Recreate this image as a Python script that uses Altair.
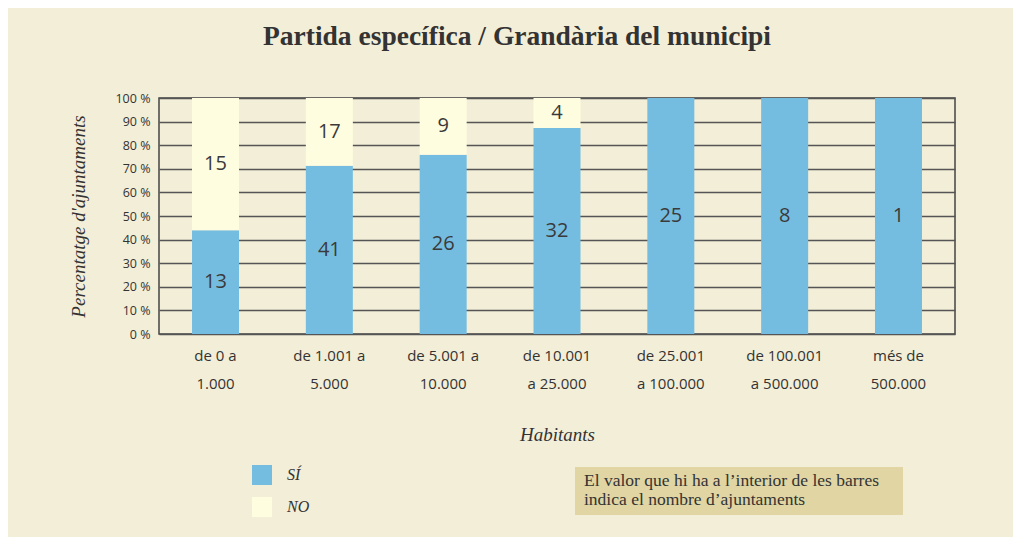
import altair as alt
import pandas as pd

categories = ["de 0 a\n1.000", "de 1.001 a\n5.000", "de 5.001 a\n10.000", "de 10.001\na 25.000",
              "de 25.001\na 100.000", "de 100.001\na 500.000", "més de\n500.000"]
si_counts = [13, 41, 26, 32, 25, 8, 1]
no_counts = [15, 17, 9, 4, 0, 0, 0]
si_pct = [44, 71.3, 76, 87.3, 100, 100, 100]
series = ["SÍ", "NO"]
y_ticks = [0, 10, 20, 30, 40, 50, 60, 70, 80, 90, 100]
note_lines = ["El valor que hi ha a l\u2019interior de les barres", "indica el nombre d\u2019ajuntaments"]

BG = "#f3eed8"
BLUE = "#75bde0"
YELLOW = "#fffde0"
TXT = "#333333"

rows = []
for c, s, n, p in zip(categories, si_counts, no_counts, si_pct):
    rows.append(dict(cat=c, serie="SÍ", count=s, y0=0, y1=p, mid=p / 2, order=0))
    if n > 0:
        rows.append(dict(cat=c, serie="NO", count=n, y0=p, y1=100, mid=(p + 100) / 2, order=1))
df = pd.DataFrame(rows)

W, H = 796, 236

xaxis = alt.Axis(title="Habitants", labelAngle=0, labelExpr="split(datum.label, '\\n')",
                 labelFont="Open Sans", labelFontSize=15, labelColor=TXT,
                 labelLineHeight=28, labelPadding=14, ticks=False, domain=False,
                 titleFont="Liberation Serif", titleFontSize=19, titleFontStyle="italic",
                 titleFontWeight="normal", titleColor=TXT,
                 titleX=W / 2, titleY=106, titleBaseline="alphabetic", titleAlign="center")

yaxis = alt.Axis(title="Percentatge d'ajuntaments", values=y_ticks, labelOverlap=False,
                 labelExpr="datum.value + ' %'", labelFont="Open Sans", labelFontSize=12.5,
                 labelColor=TXT, labelPadding=9, ticks=False, domain=False,
                 grid=True, gridColor="#555555", gridWidth=1.5,
                 titleFont="Liberation Serif", titleFontSize=19, titleFontStyle="italic",
                 titleFontWeight="normal", titleColor=TXT,
                 titleX=-75, titleY=H / 2, titleAngle=-90,
                 titleBaseline="alphabetic", titleAlign="center")

yscale = alt.Scale(domain=[0, 100], nice=False)
xscale = alt.Scale(paddingInner=0.587, paddingOuter=0.29)

bars = alt.Chart(df).mark_bar().encode(
    x=alt.X("cat:N", sort=categories, scale=xscale, axis=xaxis),
    y=alt.Y("y0:Q", scale=yscale, axis=yaxis),
    y2="y1:Q",
    color=alt.Color("serie:N", scale=alt.Scale(domain=series, range=[BLUE, YELLOW]),
                    legend=alt.Legend(title=None, orient="none", legendX=93, legendY=367,
                                      symbolType="square", symbolSize=400, symbolStrokeWidth=0,
                                      symbolOpacity=1,
                                      labelFont="Liberation Serif", labelFontStyle="italic",
                                      labelFontSize=16, labelColor=TXT, labelOffset=15,
                                      rowPadding=12)),
    order=alt.Order("order:Q"),
)

labels = alt.Chart(df).mark_text(font="Open Sans", fontSize=20, color="#3a3a3a",
                                 baseline="middle").encode(
    x=alt.X("cat:N", sort=categories, scale=xscale, axis=xaxis),
    y=alt.Y("mid:Q", scale=yscale, axis=yaxis),
    text=alt.Text("count:Q"),
)

note_df = pd.DataFrame({"t": ["\n".join(note_lines)]})
note_box = alt.Chart(note_df).mark_rect(color="#e0d5a3").encode(
    x=alt.value(416), x2=alt.value(744), y=alt.value(369), y2=alt.value(417))
note_text = alt.Chart(note_df).mark_text(font="Liberation Serif", fontSize=17.5, color=TXT,
                                         align="left", baseline="alphabetic", lineBreak="\n",
                                         lineHeight=19).encode(
    x=alt.value(425), y=alt.value(388), text="t:N")

chart = alt.layer(bars, labels, note_box, note_text).properties(
    width=W, height=H,
    title=alt.TitleParams("Partida específica / Grandària del municipi", font="Liberation Serif",
                          fontSize=27.5, fontWeight="bold", color=TXT, anchor="middle",
                          dx=-40, offset=42),
    background=BG,
    padding={"left": 151, "top": 90, "right": 58, "bottom": 203},
    autosize=alt.AutoSizeParams(type="none"),
).configure_view(stroke="#444444", strokeWidth=1.5)

chart.save("out.html", embed_options={"renderer": "svg", "actions": False})
